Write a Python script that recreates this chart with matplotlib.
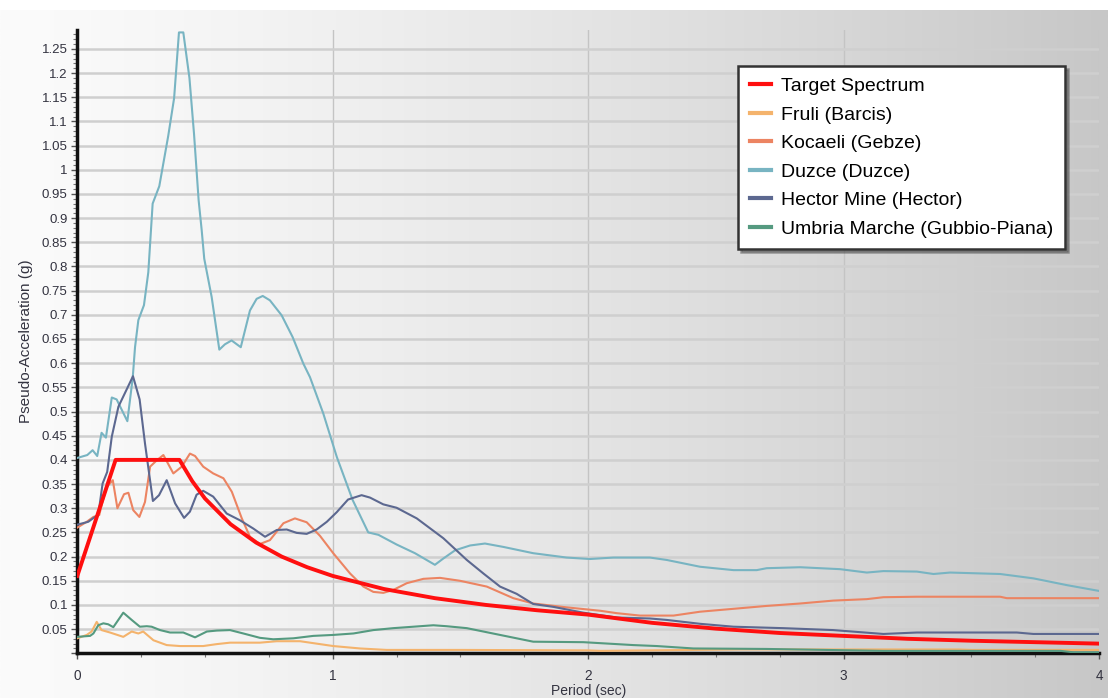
import numpy as np
import matplotlib
matplotlib.use("Agg")
import matplotlib.pyplot as plt
from matplotlib.ticker import MultipleLocator, FuncFormatter

plt.rcParams['font.family'] = ['Liberation Sans', 'DejaVu Sans']

# ---- spectra (period in s, pseudo-acceleration in g) ----
target_T = [0.0, 0.15, 0.40, 0.45, 0.50, 0.60, 0.70, 0.80, 0.90, 1.00, 1.20, 1.40,
            1.60, 1.80, 2.00, 2.25, 2.50, 2.75, 3.00, 3.25, 3.50, 3.75, 4.00]
target_Sa = [0.16, 0.40, 0.40, 0.356, 0.32, 0.267, 0.229, 0.20, 0.178, 0.16, 0.133, 0.114,
             0.10, 0.089, 0.08, 0.063, 0.051, 0.042, 0.036, 0.030, 0.026, 0.023, 0.020]

fruli_T = [0.0, 0.037, 0.056, 0.076, 0.095, 0.128, 0.18, 0.213, 0.239, 0.258, 0.298, 0.35,
           0.402, 0.493, 0.546, 0.598, 0.715, 0.781, 0.872, 0.924, 1.002, 1.107, 1.211,
           1.5, 2.0, 2.05, 2.6, 3.45, 3.5, 4.0]
fruli_Sa = [0.031, 0.038, 0.045, 0.065, 0.048, 0.043, 0.034, 0.045, 0.041, 0.045, 0.027, 0.017,
            0.015, 0.015, 0.019, 0.022, 0.022, 0.025, 0.025, 0.021, 0.015, 0.010, 0.007,
            0.007, 0.006, 0.005, 0.008, 0.008, 0.007, 0.007]

kocaeli_T = [0.0, 0.037, 0.063, 0.086, 0.095, 0.115, 0.139, 0.157, 0.183, 0.20, 0.219, 0.243,
             0.265, 0.285, 0.311, 0.337, 0.376, 0.409, 0.441, 0.461, 0.493, 0.532, 0.572,
             0.605, 0.644, 0.676, 0.715, 0.754, 0.807, 0.852, 0.898, 0.95, 1.002, 1.068,
             1.12, 1.159, 1.198, 1.237, 1.29, 1.355, 1.42, 1.498, 1.603, 1.707, 1.785,
             1.916, 2.047, 2.112, 2.203, 2.334, 2.438, 2.569, 2.699, 2.83, 2.96, 3.091,
             3.156, 3.287, 3.613, 3.639, 4.0]
kocaeli_Sa = [0.26, 0.272, 0.282, 0.286, 0.306, 0.344, 0.358, 0.30, 0.329, 0.332, 0.296, 0.282,
              0.313, 0.386, 0.399, 0.41, 0.372, 0.386, 0.413, 0.408, 0.386, 0.372, 0.362,
              0.334, 0.279, 0.241, 0.226, 0.234, 0.269, 0.279, 0.271, 0.243, 0.207, 0.165,
              0.138, 0.127, 0.125, 0.131, 0.145, 0.154, 0.156, 0.15, 0.138, 0.114, 0.103,
              0.095, 0.088, 0.083, 0.078, 0.078, 0.086, 0.092, 0.098, 0.103, 0.109, 0.112,
              0.116, 0.117, 0.117, 0.114, 0.114]

duzce_T = [0.0, 0.039, 0.06, 0.078, 0.095, 0.112, 0.135, 0.154, 0.196, 0.217, 0.226, 0.239,
           0.261, 0.278, 0.295, 0.321, 0.356, 0.379, 0.398, 0.415, 0.439, 0.457, 0.475,
           0.487, 0.497, 0.526, 0.556, 0.578, 0.604, 0.64, 0.676, 0.702, 0.726, 0.754,
           0.80, 0.843, 0.885, 0.911, 0.963, 1.016, 1.078, 1.139, 1.179, 1.25, 1.322, 1.40,
           1.433, 1.479, 1.538, 1.596, 1.668, 1.785, 1.916, 2.007, 2.099, 2.242, 2.308,
           2.438, 2.569, 2.66, 2.699, 2.83, 2.986, 3.091, 3.156, 3.287, 3.352, 3.417,
           3.613, 3.743, 3.874, 4.0]
duzce_Sa = [0.404, 0.41, 0.42, 0.408, 0.456, 0.446, 0.529, 0.525, 0.48, 0.57, 0.633, 0.689,
            0.72, 0.788, 0.93, 0.966, 1.07, 1.148, 1.284, 1.284, 1.19, 1.074, 0.937,
            0.875, 0.816, 0.737, 0.628, 0.639, 0.647, 0.633, 0.709, 0.733, 0.739, 0.73,
            0.699, 0.654, 0.599, 0.571, 0.496, 0.406, 0.317, 0.25, 0.245, 0.225, 0.207, 0.183,
            0.196, 0.213, 0.223, 0.227, 0.22, 0.207, 0.198, 0.195, 0.198, 0.198, 0.193,
            0.179, 0.172, 0.172, 0.176, 0.178, 0.174, 0.167, 0.17, 0.169, 0.164, 0.167,
            0.164, 0.155, 0.141, 0.129]

hector_T = [0.0, 0.043, 0.069, 0.082, 0.099, 0.117, 0.135, 0.161, 0.218, 0.244, 0.265, 0.296,
            0.32, 0.35, 0.383, 0.418, 0.441, 0.467, 0.493, 0.532, 0.585, 0.637, 0.689,
            0.735, 0.781, 0.82, 0.859, 0.898, 0.937, 0.977, 1.016, 1.06, 1.113, 1.146,
            1.198, 1.25, 1.329, 1.433, 1.525, 1.59, 1.655, 1.72, 1.785, 1.864, 1.981,
            2.112, 2.242, 2.308, 2.438, 2.569, 2.764, 2.96, 3.156, 3.287, 3.678, 3.743, 4.0]
hector_Sa = [0.266, 0.272, 0.282, 0.286, 0.351, 0.375, 0.448, 0.51, 0.573, 0.525, 0.434, 0.315,
             0.327, 0.358, 0.31, 0.28, 0.293, 0.328, 0.336, 0.324, 0.289, 0.275, 0.258,
             0.241, 0.255, 0.256, 0.249, 0.247, 0.256, 0.272, 0.292, 0.318, 0.327, 0.322,
             0.308, 0.301, 0.279, 0.238, 0.193, 0.165, 0.138, 0.123, 0.102, 0.096, 0.084,
             0.074, 0.072, 0.069, 0.061, 0.055, 0.052, 0.048, 0.040, 0.043, 0.043, 0.040, 0.040]

umbria_T = [0.0, 0.05, 0.063, 0.082, 0.102, 0.121, 0.141, 0.18, 0.213, 0.245, 0.272, 0.291,
            0.324, 0.363, 0.415, 0.461, 0.507, 0.546, 0.598, 0.65, 0.715, 0.767, 0.846,
            0.924, 1.002, 1.081, 1.159, 1.237, 1.316, 1.394, 1.446, 1.525, 1.655, 1.785,
            1.981, 2.112, 2.177, 2.269, 2.412, 2.699, 3.156, 3.85, 3.9, 4.0]
umbria_Sa = [0.034, 0.036, 0.041, 0.058, 0.062, 0.06, 0.054, 0.084, 0.069, 0.055, 0.056, 0.055,
             0.048, 0.043, 0.043, 0.033, 0.045, 0.047, 0.048, 0.041, 0.032, 0.029, 0.031,
             0.036, 0.038, 0.041, 0.048, 0.052, 0.055, 0.058, 0.056, 0.052, 0.038, 0.024,
             0.023, 0.019, 0.017, 0.015, 0.010, 0.009, 0.005, 0.005, 0.002, 0.002]

series = [
    ("Target Spectrum", target_T, target_Sa, "#ff0f0f", 2.8, 5),
    ("Fruli (Barcis)", fruli_T, fruli_Sa, "#f4b36c", 1.5, 3),
    ("Kocaeli (Gebze)", kocaeli_T, kocaeli_Sa, "#ec8462", 1.5, 3),
    ("Duzce (Duzce)", duzce_T, duzce_Sa, "#78b4c2", 1.5, 3),
    ("Hector Mine (Hector)", hector_T, hector_Sa, "#5c6890", 1.5, 3),
    ("Umbria Marche (Gubbio-Piana)", umbria_T, umbria_Sa, "#559a80", 1.5, 3),
]

W, H = 1108, 698
fig = plt.figure(figsize=(W / 100, H / 100), dpi=100)
fig.patch.set_facecolor("white")

# grey left-to-right gradient behind everything (white strip on top)
bg = fig.add_axes([0, 0, 1, 1 - 10 / H], zorder=-10)
grad = np.linspace(0, 1, 512)
shade = 251 - 52 * grad ** 1.3
img = np.tile(shade[None, :, None], (2, 1, 3)) / 255.0
bg.imshow(img, aspect="auto", extent=[0, 1, 0, 1], interpolation="bilinear")
bg.set_axis_off()

x0, x1, ytop, ybot = 77.3, 1099.0, 30.0, 653.3
ax = fig.add_axes([x0 / W, (H - ybot) / H, (x1 - x0) / W, (ybot - ytop) / H])
ax.patch.set_alpha(0)

for name, T, Sa, col, lw, z in series:
    ax.plot(T, Sa, color=col, lw=lw, label=name, zorder=z, solid_joinstyle="round")

ax.set_xlim(0, 4)
ax.set_ylim(0, 1.289)

ax.xaxis.set_major_locator(MultipleLocator(1))
ax.xaxis.set_minor_locator(MultipleLocator(0.25))
ax.yaxis.set_major_locator(MultipleLocator(0.05))
ax.yaxis.set_minor_locator(MultipleLocator(0.01))

def fmt(v, pos):
    if abs(v) < 1e-9:
        return ""
    return ("%.2f" % v).rstrip("0").rstrip(".")

ax.yaxis.set_major_formatter(FuncFormatter(fmt))
ax.xaxis.set_major_formatter(FuncFormatter(lambda v, p: "%d" % round(v)))

ax.grid(axis="y", which="major", color="#cfcfcf", lw=1.8, zorder=0)
ax.grid(axis="x", which="major", color="#c4c4c4", lw=1.0, zorder=0)
ax.set_axisbelow(True)

for s in ("top", "right"):
    ax.spines[s].set_visible(False)
for s in ("left", "bottom"):
    ax.spines[s].set_linewidth(2.5)
    ax.spines[s].set_color("#111111")

ax.tick_params(axis="both", which="major", labelsize=9.5, colors="#555555",
               labelcolor="#333340", length=4, width=1)
ax.tick_params(axis="both", which="minor", colors="#777777", length=3, width=0.8)
ax.tick_params(axis="y", which="major", pad=3)
ax.tick_params(axis="x", which="major", labelsize=9.8, pad=7)

ax.set_ylabel("Pseudo-Acceleration (g)", fontsize=11, color="#333340", labelpad=6)
fig.text((x0 + x1) / 2 / W, 1 - 691 / H, "Period (sec)", fontsize=10,
         color="#333340", ha="center", va="center")

leg = ax.legend(loc="upper right",
                bbox_to_anchor=((1065 - x0) / (x1 - x0), (ybot - 66) / (ybot - ytop)),
                borderaxespad=0, fontsize=14, handlelength=1.1, handletextpad=0.5,
                labelspacing=0.56, borderpad=0.6, fancybox=False, shadow=True,
                framealpha=1, edgecolor="#333333", facecolor="white")
leg.get_frame().set_linewidth(1.8)
for h in leg.get_lines():
    h.set_linewidth(3)

fig.savefig("out.png", dpi=100)
